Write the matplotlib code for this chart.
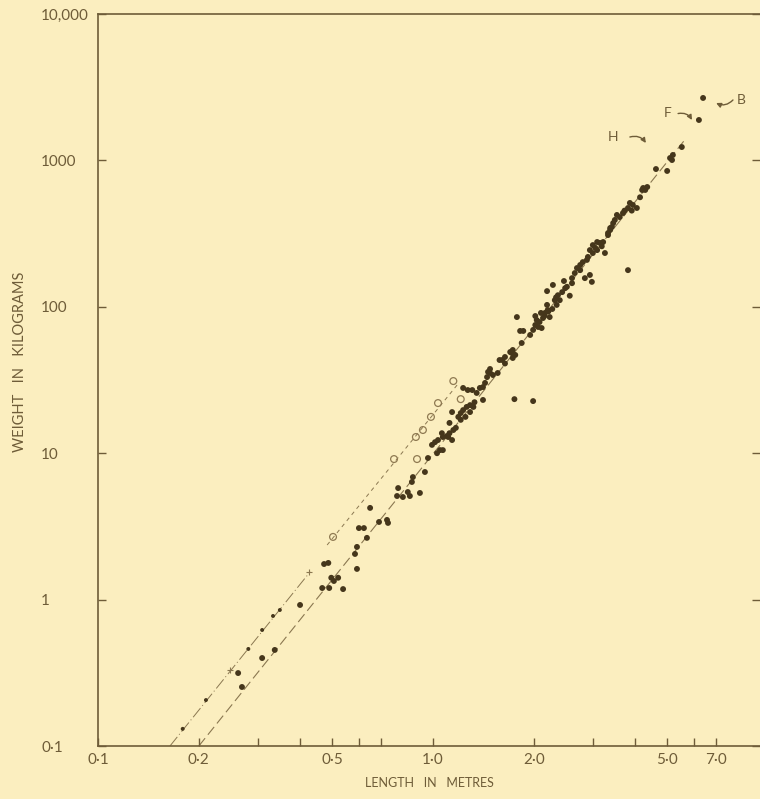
import matplotlib.pyplot as plt
import numpy as np

# length (m) and weight (kg) of the measured specimens
length = [0.262, 0.269, 0.309, 0.337, 0.401, 0.467, 0.490, 0.539, 0.497, 0.506,
          0.521, 0.473, 0.487, 0.593, 0.585, 0.593, 0.635, 0.601, 0.622, 0.690,
          0.729, 0.734, 0.649, 0.787, 0.781, 0.813, 0.841, 0.853, 0.914, 0.865,
          0.871, 0.946, 0.966, 0.993, 1.014, 1.035, 1.049, 1.07, 1.028, 1.063,
          1.07, 1.11, 1.12, 1.15, 1.14, 1.12, 1.14, 1.19, 1.21, 1.23,
          1.26, 1.29, 1.32, 1.29, 1.25, 1.21, 1.23, 1.27, 1.31, 1.35,
          1.38, 1.41, 1.43, 1.41, 1.45, 1.48, 1.51, 1.56, 1.46, 1.61,
          1.64, 1.72, 1.73, 1.76, 1.73, 1.75, 1.99, 1.48, 1.58, 1.70,
          1.84, 1.82, 1.86, 1.78, 1.95, 1.99, 2.02, 2.06, 2.08, 2.11,
          2.04, 2.13, 2.16, 2.02, 2.10, 2.20, 2.19, 2.27, 2.23, 2.19,
          2.28, 2.31, 2.36, 2.43, 2.48, 2.51, 2.34, 2.56, 2.46, 2.60,
          2.65, 2.69, 2.75, 2.80, 2.88, 2.90, 2.84, 2.94, 2.98, 2.94,
          3.00, 3.09, 3.15, 3.22, 3.26, 3.00, 3.33, 3.38, 3.82, 3.33,
          3.38, 3.42, 3.45, 3.49, 3.54, 3.61, 3.69, 3.82, 3.87, 3.95,
          4.06, 4.21, 4.24, 4.36, 4.63, 5.00, 5.10, 5.17, 5.20, 5.53,
          6.22, 6.40, 2.15, 2.21, 2.33, 2.39, 3.05, 3.09, 3.19, 3.73,
          3.92, 4.15, 4.30, 1.10, 1.17, 1.33, 1.64, 2.60, 2.75]
weight = [0.315, 0.253, 0.399, 0.453, 0.919, 1.20, 1.20, 1.18, 1.41, 1.34,
          1.41, 1.75, 1.78, 1.62, 2.05, 2.29, 2.64, 3.08, 3.08, 3.39,
          3.50, 3.34, 4.23, 5.78, 5.10, 5.02, 5.43, 5.10, 5.35, 6.36,
          6.87, 7.44, 9.27, 11.4, 11.9, 12.3, 10.5, 10.5, 10.0, 13.7,
          12.9, 12.9, 13.7, 14.4, 12.3, 16.1, 19.1, 17.7, 18.8, 19.7,
          20.7, 21.3, 20.7, 19.1, 17.7, 16.9, 27.9, 27.0, 27.0, 25.8,
          27.9, 28.3, 30.2, 23.1, 33.1, 35.3, 34.2, 35.3, 35.9, 43.3,
          45.4, 48.3, 50.7, 46.9, 44.7, 23.4, 22.7, 37.6, 43.3, 49.1,
          56.6, 68.4, 68.4, 85.1, 64.2, 69.5, 75.1, 72.8, 78.7, 71.6,
          81.2, 83.8, 90.8, 86.5, 90.8, 95.1, 103, 96.6, 85.1, 128,
          141, 111, 120, 126, 134, 137, 103, 119, 150, 157,
          170, 184, 193, 202, 209, 219, 157, 165, 148, 244,
          264, 277, 273, 277, 233, 233, 319, 345, 178, 309,
          335, 351, 373, 392, 424, 410, 437, 473, 512, 496,
          473, 628, 648, 658, 873, 847, 1038, 1006, 1089, 1234,
          1888, 2670, 86.5, 93, 116, 111, 253, 244, 259, 454,
          454, 560, 628, 13.1, 14.9, 22.3, 41, 145, 178]

# second group, open circles
circ_length = [0.503, 0.765, 0.896, 0.889, 0.933, 0.986, 1.035, 1.15, 1.21]
circ_weight = [2.68, 9.12, 9.12, 12.9, 14.4, 17.7, 22.0, 31.1, 23.4]

# small specimens marked along the dash-dot line
small_length = [0.179, 0.210, 0.281, 0.309, 0.333, 0.349]
small_weight = [0.131, 0.206, 0.460, 0.620, 0.773, 0.849]
cross_length = [0.248, 0.427]
cross_weight = [0.330, 1.55]

# fitted lines (end points)
fit_main_len, fit_main_wt = [0.2, 5.6], [0.1, 1350]
fit_circ_len, fit_circ_wt = [0.483, 1.18], [2.36, 29.2]
fit_small_len, fit_small_wt = [0.164, 0.43], [0.1, 1.55]

# labelled individuals: letter position, arrow tail, arrow head
notes = ['H', 'F', 'B']
note_xy = [(3.45, 1445), (5.0, 2108), (8.31, 2586)]
arrow_tail = [(3.87, 1445), (5.39, 2090), (7.86, 2586)]
arrow_head = [(4.32, 1315), (5.93, 1888), (7.0, 2466)]

xticks = [0.1, 0.2, 0.5, 1.0, 2.0, 5.0, 7.0]
xticklabels = ['0·1', '0·2', '0·5', '1·0', '2·0', '5·0', '7·0']
xminor = [0.3, 0.4, 0.6, 0.7, 3.0, 4.0, 6.0]
yticks = [0.1, 1, 10, 100, 1000, 10000]
yticklabels = ['0·1', '1', '10', '100', '1000', '10,000']

bg = '#fbeebf'
ink = '#6e5c38'
dot = '#45361b'
line_c = '#8a7750'

plt.rcParams['font.family'] = ['Lato', 'DejaVu Sans']

fig = plt.figure(figsize=(7.6, 7.99), dpi=100, facecolor=bg)
ax = fig.add_axes([98 / 760, 53 / 799, 662 / 760, 732 / 799])
ax.set_facecolor(bg)
ax.set_xscale('log')
ax.set_yscale('log')
ax.set_xlim(0.1, 10 ** (662 / 335 - 1))
ax.set_ylim(0.1, 10000)

ax.plot(fit_main_len, fit_main_wt, color=line_c, lw=0.8, ls=(0, (9, 4)), zorder=1)
ax.plot(fit_circ_len, fit_circ_wt, color=line_c, lw=0.7, ls=(0, (4, 4)), zorder=1)
ax.plot(fit_small_len, fit_small_wt, color=line_c, lw=0.7, ls=(0, (12, 3, 1, 3)), zorder=1)

ax.scatter(length, weight, s=18, color=dot, edgecolors='none', zorder=3)
ax.scatter(circ_length, circ_weight, s=24, facecolors='none', edgecolors='#8f7a52',
           linewidths=0.9, zorder=3)
ax.scatter(small_length, small_weight, s=8, color=dot, edgecolors='none', zorder=3)
ax.scatter(cross_length, cross_weight, s=18, marker='+', color=line_c, linewidths=0.8, zorder=3)

for name, xy, tail, head in zip(notes, note_xy, arrow_tail, arrow_head):
    ax.text(xy[0], xy[1], name, color=ink, fontsize=10, ha='center', va='center')
    ax.annotate('', xy=head, xytext=tail,
                arrowprops=dict(arrowstyle='-|>', color=ink, lw=1.0, mutation_scale=7,
                                shrinkA=0, shrinkB=0, connectionstyle='arc3,rad=-0.35'))

# axes frame: left, bottom and top lines only
for side in ['left', 'bottom', 'top']:
    ax.spines[side].set_color(ink)
    ax.spines[side].set_linewidth(1.2)
ax.spines['right'].set_visible(False)

ax.set_xticks(xticks)
ax.set_xticklabels(xticklabels)
ax.set_xticks(xminor, minor=True)
ax.set_yticks(yticks)
ax.set_yticklabels(yticklabels, ha='left')
ax.yaxis.set_minor_locator(plt.NullLocator())
ax.tick_params(axis='x', which='both', direction='in', length=6, width=1, color=ink,
               labelcolor=ink, labelsize=11, pad=5)
ax.tick_params(axis='x', which='minor', labelbottom=False)
ax.tick_params(axis='y', which='both', direction='in', length=6, width=1, color=ink,
               labelcolor=ink, labelsize=11, pad=41, right=True)

ax.set_xlabel('LENGTH   IN   METRES', color=ink, fontsize=9, labelpad=7)
fig.text(20 / 760, 1 - 362 / 799, 'WEIGHT   IN   KILOGRAMS', color=ink, fontsize=10.5,
         rotation=90, ha='center', va='center')

fig.savefig('out.png', dpi=100, facecolor=bg)
